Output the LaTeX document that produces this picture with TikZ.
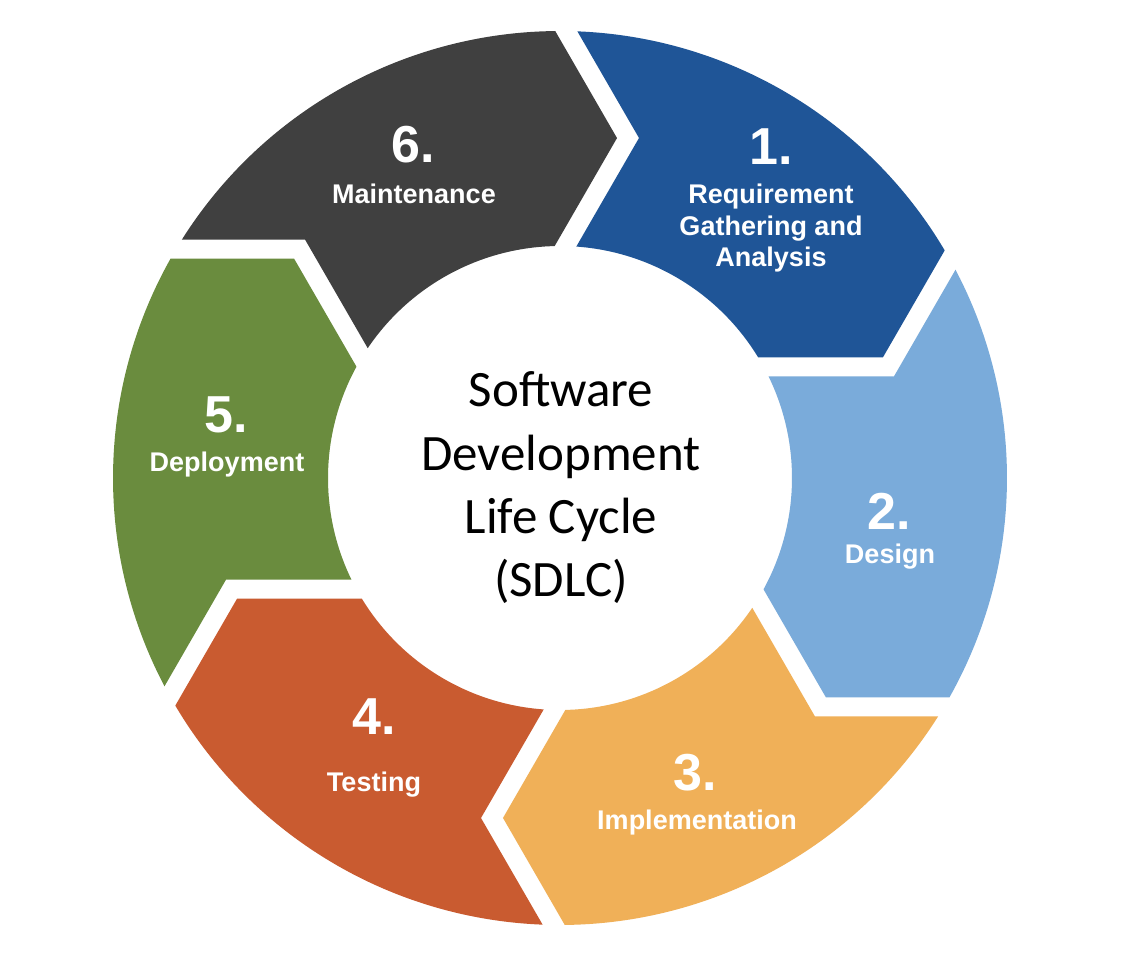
\documentclass[tikz,border=0pt]{standalone}
\usepackage{fontspec}
\setmainfont{Liberation Sans}
\newfontfamily\centerfont{Carlito}
\definecolor{segA}{HTML}{1F5597}
\definecolor{segB}{HTML}{7AABDA}
\definecolor{segC}{HTML}{F0B058}
\definecolor{segD}{HTML}{C95B30}
\definecolor{segE}{HTML}{6A8C3E}
\definecolor{segF}{HTML}{404040}
\tikzset{
  numtext/.style={text=white, font=\fontsize{52}{60}\selectfont\bfseries, inner sep=0pt, anchor=base},
  labtext/.style={text=white, font=\fontsize{27}{31}\selectfont\bfseries, inner sep=0pt, anchor=base},
  midtext/.style={text=black, font=\centerfont\fontsize{51}{63}\selectfont, inner sep=0pt, anchor=base}
}
\begin{document}
\begin{tikzpicture}[x=1pt, y=1pt]
\fill[white] (-560,-480) rectangle (566,478);
\useasboundingbox (-560,-480) rectangle (566,478);
\foreach \c [count=\i from 0] in {segA,segB,segC,segD,segE,segF}
  \fill[\c, rotate=-60*\i] (87.77:447) arc[start angle=87.77, end angle=30.61, radius=447]
     -- (322.9,120.6) -- (31.32:232) arc[start angle=31.32, end angle=85.97, radius=232]
     -- (79,340) -- cycle;
% numbers
\node[numtext] (n1) at (211,313) {1.};
\node[numtext] (n2) at (329,-51) {2.};
\node[numtext] (n3) at (135,-312) {3.};
\node[numtext] (n4) at (-186,-256) {4.};
\node[numtext] (n5) at (-334,45) {5.};
\node[numtext] (n6) at (-147,315) {6.};
% labels
\node[labtext] (l1a) at (211,274) {Requirement};
\node[labtext] (l1b) at (211,242) {Gathering and};
\node[labtext] (l1c) at (211,211) {Analysis};
\node[labtext] (l2) at (330,-85) {Design};
\node[labtext] (l3) at (137,-351) {Implementation};
\node[labtext] (l4) at (-186,-313) {Testing};
\node[labtext] (l5) at (-333,7) {Deployment};
\node[labtext] (l6) at (-146,274) {Maintenance};
% centre
\node[midtext] (c1) at (1,71) {Software};
\node[midtext] (c2) at (1,8) {Development};
\node[midtext] (c3) at (1,-55) {Life Cycle};
\node[midtext] (c4) at (1,-118) {(SDLC)};
\end{tikzpicture}
\end{document}
